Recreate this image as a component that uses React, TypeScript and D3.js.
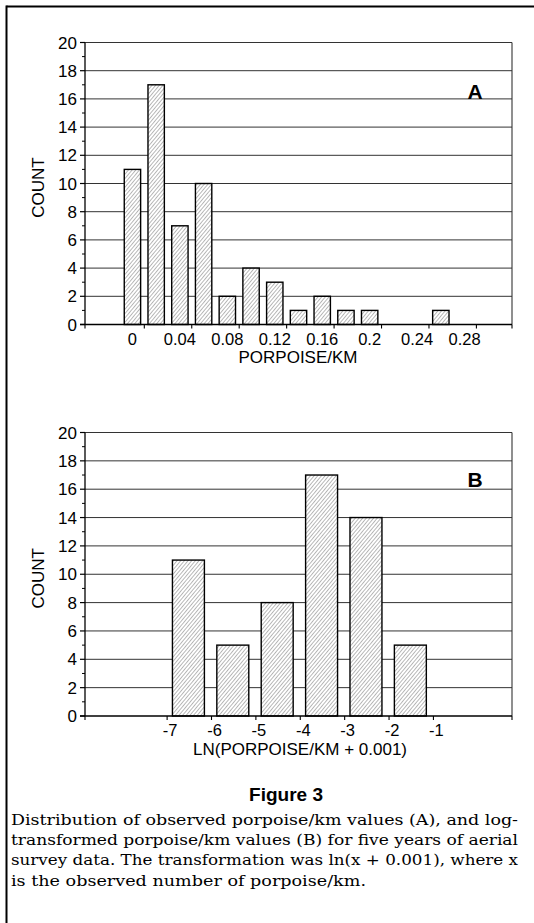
import React from "react";
import * as d3 from "d3";

// ---------- data ----------
const aBinCenters = [0, 0.02, 0.04, 0.06, 0.08, 0.1, 0.12, 0.14, 0.16, 0.18, 0.2, 0.22, 0.24, 0.26];
const aCounts = [11, 17, 7, 10, 2, 4, 3, 1, 2, 1, 1, 0, 0, 1];
const aTickLabels = [0, 0.04, 0.08, 0.12, 0.16, 0.2, 0.24, 0.28];
const aTickMarks = [0.01, 0.05, 0.09, 0.13, 0.17, 0.21, 0.25, 0.29];

const bBinStarts = [-7, -6, -5, -4, -3, -2];
const bCounts = [11, 5, 8, 17, 14, 5];
const bTickLabels = [-7, -6, -5, -4, -3, -2, -1];

const yMajor = [0, 2, 4, 6, 8, 10, 12, 14, 16, 18, 20];
const yMinor = [1, 3, 5, 7, 9, 11, 13, 15, 17, 19];

const captionLines = [
  "Distribution of observed porpoise/km values (A), and log-",
  "transformed porpoise/km values (B) for five years of aerial",
  "survey data. The transformation was ln(x + 0.001), where x",
  "is the observed number of porpoise/km.",
];

const SANS = "'Liberation Sans', Arial, Helvetica, sans-serif";
const SERIF = "'DejaVu Serif', 'Liberation Serif', serif";

const LEFT = 85;
const RIGHT = 512;

type Bar = { x0: number; x1: number; v: number };

function Panel(props: {
  top: number;
  bottom: number;
  x: d3.ScaleLinear<number, number>;
  bars: Bar[];
  tickMarks: number[];
  tickLabels: { v: number; t: string }[];
  labelDx: number;
  labelBaseline: number;
  title: string;
  titleX: number;
  titleBaseline: number;
  letter: string;
  letterBaseline: number;
}) {
  const y = d3.scaleLinear().domain([0, 20]).range([props.bottom, props.top]);
  const { x } = props;
  const midY = (props.top + props.bottom) / 2 + 4;
  return (
    <g>
      {/* gridlines */}
      {yMajor.filter((v) => v > 0).map((v) => (
        <line key={"g" + v} x1={LEFT} x2={RIGHT} y1={y(v)} y2={y(v)} stroke="#333" strokeWidth={1} />
      ))}
      {/* right border */}
      <line x1={RIGHT} x2={RIGHT} y1={y(20)} y2={y(0)} stroke="#333" strokeWidth={1.1} />
      {/* bars */}
      {props.bars.filter((b) => b.v > 0).map((b, i) => (
        <rect
          key={"b" + i}
          x={x(b.x0)}
          width={x(b.x1) - x(b.x0)}
          y={y(b.v)}
          height={y(0) - y(b.v)}
          fill="url(#hatch)"
          stroke="#000"
          strokeWidth={1.4}
        />
      ))}
      {/* y axis */}
      <line x1={LEFT} x2={LEFT} y1={y(20)} y2={y(0)} stroke="#000" strokeWidth={1.3} />
      {yMajor.map((v) => (
        <g key={"ym" + v}>
          <line x1={LEFT - 5} x2={LEFT} y1={y(v)} y2={y(v)} stroke="#000" strokeWidth={1.2} />
          <text x={77} y={y(v)} dy="0.36em" textAnchor="end" fontFamily={SANS} fontSize={17}>
            {v}
          </text>
        </g>
      ))}
      {yMinor.map((v) => (
        <line key={"yn" + v} x1={LEFT - 3} x2={LEFT} y1={y(v)} y2={y(v)} stroke="#000" strokeWidth={1} />
      ))}
      {/* x axis */}
      <line x1={LEFT - 5} x2={RIGHT} y1={y(0)} y2={y(0)} stroke="#000" strokeWidth={1.3} />
      {[x.domain()[0], ...props.tickMarks, x.domain()[1]].map((v, i) => (
        <line key={"xt" + i} x1={x(v)} x2={x(v)} y1={y(0)} y2={y(0) + 4} stroke="#000" strokeWidth={1.1} />
      ))}
      {props.tickLabels.map((t, i) => (
        <text
          key={"xl" + i}
          x={x(t.v) + props.labelDx}
          y={props.labelBaseline}
          textAnchor="middle"
          fontFamily={SANS}
          fontSize={16.5}
        >
          {t.t}
        </text>
      ))}
      <text x={props.titleX} y={props.titleBaseline} textAnchor="middle" fontFamily={SANS} fontSize={17}>
        {props.title}
      </text>
      <text
        transform={`translate(44,${midY}) rotate(-90)`}
        textAnchor="middle"
        fontFamily={SANS}
        fontSize={17}
      >
        COUNT
      </text>
      <text x={475} y={props.letterBaseline} textAnchor="middle" fontFamily={SANS} fontSize={21} fontWeight="bold">
        {props.letter}
      </text>
    </g>
  );
}

export default function App() {
  const xA = d3.scaleLinear().domain([-0.04, 0.32]).range([LEFT, RIGHT]);
  const xB = d3.scaleLinear().domain([-8.85, 0.77]).range([LEFT, RIGHT]);

  const aHalf = 0.02 * 0.345;
  const barsA: Bar[] = aBinCenters.map((c, i) => ({ x0: c - aHalf, x1: c + aHalf, v: aCounts[i] }));
  const bHalf = 0.36;
  const barsB: Bar[] = bBinStarts.map((s, i) => ({ x0: s + 0.48 - bHalf, x1: s + 0.48 + bHalf, v: bCounts[i] }));

  const fmtA = (v: number) => (v === 0 ? "0" : String(+v.toFixed(2)));

  return (
    <div style={{ position: "absolute", left: 0, top: 0 }}>
      <svg width={534} height={923} style={{ display: "block", background: "#fff" }}>
        <defs>
          <pattern id="hatch" patternUnits="userSpaceOnUse" width={2.8} height={2.8} patternTransform="rotate(40)">
            <rect width={2.8} height={2.8} fill="#fff" />
            <line x1={0} y1={0} x2={0} y2={2.8} stroke="#444" strokeWidth={0.75} />
          </pattern>
        </defs>
        {/* frame */}
        <line x1={6.5} x2={534} y1={6.5} y2={6.5} stroke="#000" strokeWidth={2} />
        <line x1={6.5} x2={6.5} y1={5.5} y2={923} stroke="#000" strokeWidth={2} />

        <Panel
          top={42.5}
          bottom={324.5}
          x={xA}
          bars={barsA}
          tickMarks={aTickMarks}
          tickLabels={aTickLabels.map((v) => ({ v, t: fmtA(v) }))}
          labelDx={0}
          labelBaseline={344.5}
          title="PORPOISE/KM"
          titleX={298}
          titleBaseline={363}
          letter="A"
          letterBaseline={99}
        />
        <Panel
          top={432.5}
          bottom={716}
          x={xB}
          bars={barsB}
          tickMarks={bTickLabels}
          tickLabels={bTickLabels.map((v) => ({ v, t: String(v) }))}
          labelDx={3}
          labelBaseline={736}
          title="LN(PORPOISE/KM + 0.001)"
          titleX={300}
          titleBaseline={755}
          letter="B"
          letterBaseline={487}
        />

        {/* caption */}
        <text x={286} y={801} textAnchor="middle" fontFamily={SANS} fontSize={19} fontWeight="bold">
          Figure 3
        </text>
        {captionLines.map((l, i) => (
          <text
            key={"c" + i}
            x={11}
            y={824.5 + i * 20.4}
            fontFamily={SERIF}
            fontSize={14.5}
            textLength={i < 3 ? 507 : 355}
            lengthAdjust="spacingAndGlyphs"
          >
            {l}
          </text>
        ))}
      </svg>
    </div>
  );
}
